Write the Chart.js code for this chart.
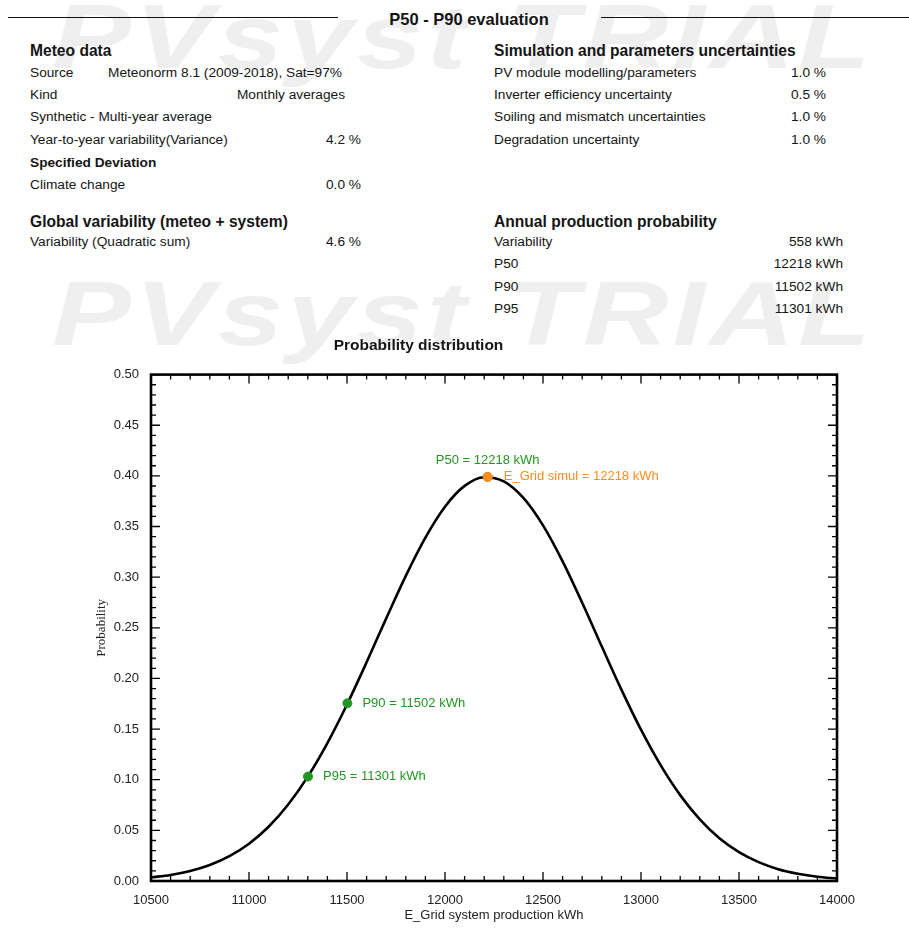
<!DOCTYPE html>
<html>
<head>
<meta charset="utf-8">
<script src="https://cdn.jsdelivr.net/npm/chart.js@4.4.1/dist/chart.umd.min.js"></script>
<style>
  body { margin: 0; background: #fff; }
  #page { position: relative; width: 909px; height: 929px; overflow: hidden; font-family: "Liberation Sans", Arial, sans-serif; color: #151515; }
  .wm { position: absolute; left: 52px; font: italic bold 91px "Liberation Sans", Arial, sans-serif; color: #efefef; letter-spacing: 3px; white-space: nowrap; line-height: 1; transform-origin: 0 0; transform: scaleX(1.3); }
  .t { position: absolute; white-space: nowrap; font-size: 13.7px; line-height: 16px; transform: translateY(-50%); }
  .r { transform: translate(-100%, -50%); }
  .b { font-weight: bold; }
  .h { font-weight: bold; font-size: 15.6px; line-height: 18px; }
  .rule { position: absolute; height: 0; border-top: 1.5px solid #111; }
  #chart { position: absolute; left: 0; top: 330px; }
</style>
</head>
<body>
<div id="page">
  <div class="wm" style="top:-9px">PVsyst TRIAL</div>
  <div class="wm" style="top:268px">PVsyst TRIAL</div>

  <div class="rule" style="left:8px; width:330px; top:17px"></div>
  <div class="rule" style="left:601px; width:308px; top:17px"></div>
  <div class="t b" style="left:469px; top:19px; font-size:16.5px; transform:translate(-50%,-50%)">P50 - P90 evaluation</div>

  <div id="texts"></div>
  <canvas id="chart" width="909" height="599"></canvas>
</div>
<script>
// --- curve (E_Grid kWh -> probability)
const energy = [10500, 10600, 10700, 10800, 10900, 11000, 11100, 11200, 11300, 11400, 11500, 11600,
                11700, 11800, 11900, 12000, 12100, 12200, 12300, 12400, 12500, 12600, 12700, 12800,
                12900, 13000, 13100, 13200, 13300, 13400, 13500, 13600, 13700, 13800, 13900, 14000];
const probability = [0.0035, 0.0060, 0.0099, 0.0158, 0.0245, 0.0368, 0.0536, 0.0756, 0.1031, 0.1362, 0.1743, 0.2160,
                     0.2593, 0.3013, 0.3391, 0.3696, 0.3901, 0.3987, 0.3946, 0.3782, 0.3511, 0.3156, 0.2747, 0.2315,
                     0.1890, 0.1494, 0.1144, 0.0848, 0.0609, 0.0423, 0.0285, 0.0186, 0.0117, 0.0072, 0.0042, 0.0024];

// P-values marked on the curve
const pLabels = ['P50 = 12218 kWh', 'P90 = 11502 kWh', 'P95 = 11301 kWh'];
const pEnergy = [12218, 11502, 11301];
const pProb = [0.399, 0.1755, 0.1031];

const simulLabel = ['E_Grid simul = 12218 kWh'];
const simulEnergy = [12218];
const simulProb = [0.399];

// axes
const xMin = 10500, xMax = 14000, xStep = 500, xMinor = 100;
const yMin = 0, yMax = 0.5, yStep = 0.05, yMinor = 0.01;

// text tables: [text, x, y, class]
const leftRows = [
  ['Meteo data', 30, 51, 'h'],
  ['Source', 30, 73, ''],
  ['Meteonorm 8.1 (2009-2018), Sat=97%', 108, 73, ''],
  ['Kind', 30, 95, ''],
  ['Monthly averages', 345, 95, 'r'],
  ['Synthetic - Multi-year average', 30, 117, ''],
  ['Year-to-year variability(Variance)', 30, 140, ''],
  ['4.2 %', 361, 140, 'r'],
  ['Specified Deviation', 30, 163, 'b'],
  ['Climate change', 30, 185, ''],
  ['0.0 %', 361, 185, 'r'],
  ['Global variability (meteo + system)', 30, 222, 'h'],
  ['Variability (Quadratic sum)', 30, 242, ''],
  ['4.6 %', 361, 242, 'r']
];
const rightRows = [
  ['Simulation and parameters uncertainties', 494, 51, 'h'],
  ['PV module modelling/parameters', 494, 73, ''],
  ['1.0 %', 826, 73, 'r'],
  ['Inverter efficiency uncertainty', 494, 95, ''],
  ['0.5 %', 826, 95, 'r'],
  ['Soiling and mismatch uncertainties', 494, 117, ''],
  ['1.0 %', 826, 117, 'r'],
  ['Degradation uncertainty', 494, 140, ''],
  ['1.0 %', 826, 140, 'r'],
  ['Annual production probability', 494, 222, 'h'],
  ['Variability', 494, 242, ''],
  ['558 kWh', 843, 242, 'r'],
  ['P50', 494, 264, ''],
  ['12218 kWh', 843, 264, 'r'],
  ['P90', 494, 287, ''],
  ['11502 kWh', 843, 287, 'r'],
  ['P95', 494, 309, ''],
  ['11301 kWh', 843, 309, 'r']
];

const texts = document.getElementById('texts');
leftRows.concat(rightRows).forEach(row => {
  const d = document.createElement('div');
  d.className = 't ' + row[3];
  d.style.left = row[1] + 'px';
  d.style.top = row[2] + 'px';
  d.textContent = row[0];
  texts.appendChild(d);
});

const green = '#229622';
const orange = '#ff8a1e';

Chart.defaults.font.family = '"Liberation Sans", Arial, sans-serif';
Chart.defaults.color = '#222';

// frame + inward ticks on all four sides
const framePlugin = {
  id: 'frame',
  afterDraw(chart) {
    const ctx = chart.ctx;
    const a = chart.chartArea;
    const xs = chart.scales.x, ys = chart.scales.y;
    ctx.save();
    ctx.strokeStyle = '#000';
    ctx.lineWidth = 1.3;
    ctx.beginPath();
    const nx = Math.round((xMax - xMin) / xMinor);
    for (let i = 0; i <= nx; i++) {
      const px = xs.getPixelForValue(xMin + i * xMinor);
      const len = (i % (xStep / xMinor) === 0) ? 9 : 5;
      ctx.moveTo(px, a.bottom); ctx.lineTo(px, a.bottom - len);
      ctx.moveTo(px, a.top); ctx.lineTo(px, a.top + len);
    }
    const ny = Math.round((yMax - yMin) / yMinor);
    for (let i = 0; i <= ny; i++) {
      const py = ys.getPixelForValue(yMin + i * yMinor);
      const len = (i % Math.round(yStep / yMinor) === 0) ? 9 : 5;
      ctx.moveTo(a.left, py); ctx.lineTo(a.left + len, py);
      ctx.moveTo(a.right, py); ctx.lineTo(a.right - len, py);
    }
    ctx.stroke();
    ctx.lineWidth = 2.6;
    ctx.strokeRect(a.left, a.top, a.right - a.left, a.bottom - a.top);
    ctx.restore();
  }
};

// text next to the marked points
const pointLabels = {
  id: 'pointLabels',
  afterDatasetsDraw(chart) {
    const ctx = chart.ctx;
    ctx.save();
    ctx.font = '13px "Liberation Sans", Arial, sans-serif';
    ctx.textBaseline = 'middle';
    chart.getDatasetMeta(1).data.forEach((pt, i) => {
      ctx.fillStyle = green;
      if (i === 0) {
        ctx.textAlign = 'center';
        ctx.fillText(pLabels[i], pt.x, pt.y - 16);
      } else {
        ctx.textAlign = 'left';
        ctx.fillText(pLabels[i], pt.x + 15, pt.y);
      }
    });
    chart.getDatasetMeta(0).data.forEach((pt, i) => {
      ctx.fillStyle = orange;
      ctx.textAlign = 'left';
      ctx.fillText(simulLabel[i], pt.x + 16, pt.y);
    });
    ctx.restore();
  }
};

new Chart(document.getElementById('chart'), {
  type: 'scatter',
  data: {
    datasets: [
      {
        data: simulEnergy.map((x, i) => ({ x: x, y: simulProb[i] })),
        backgroundColor: orange, borderColor: orange,
        pointRadius: 4.5, order: 0
      },
      {
        data: pEnergy.map((x, i) => ({ x: x, y: pProb[i] })),
        backgroundColor: green, borderColor: green,
        pointRadius: 4.5, order: 1
      },
      {
        type: 'line',
        data: energy.map((x, i) => ({ x: x, y: probability[i] })),
        borderColor: '#000', borderWidth: 2.6,
        pointRadius: 0, fill: false,
        cubicInterpolationMode: 'monotone', order: 2
      }
    ]
  },
  options: {
    responsive: false,
    animation: false,
    layout: { padding: { left: 0, right: 72, top: 0, bottom: 0 } },
    plugins: {
      legend: { display: false },
      tooltip: { enabled: false },
      title: {
        display: true,
        text: 'Probability distribution',
        color: '#151515',
        font: { size: 15.5, weight: 'bold' },
        padding: { top: 6, bottom: 20 }
      }
    },
    scales: {
      x: {
        type: 'linear', min: xMin, max: xMax,
        ticks: { stepSize: xStep, font: { size: 13 }, padding: 4, maxRotation: 0, callback: v => String(v) },
        grid: { display: false }, border: { display: false },
        title: { display: true, text: 'E_Grid system production kWh', font: { size: 13 }, color: '#222', padding: { top: 0, bottom: 6 } },
        afterFit(scale) { scale.height = 48; }
      },
      y: {
        min: yMin, max: yMax,
        ticks: { stepSize: yStep, font: { size: 13 }, padding: 4, callback: v => v.toFixed(2) },
        grid: { display: false }, border: { display: false },
        title: { display: true, text: 'Probability', font: { family: '"Liberation Serif", "Times New Roman", serif', size: 13 }, color: '#222', padding: { top: 94, bottom: 0 } },
        afterFit(scale) { scale.width = 151; }
      }
    }
  },
  plugins: [framePlugin, pointLabels]
});
</script>
</body>
</html>
